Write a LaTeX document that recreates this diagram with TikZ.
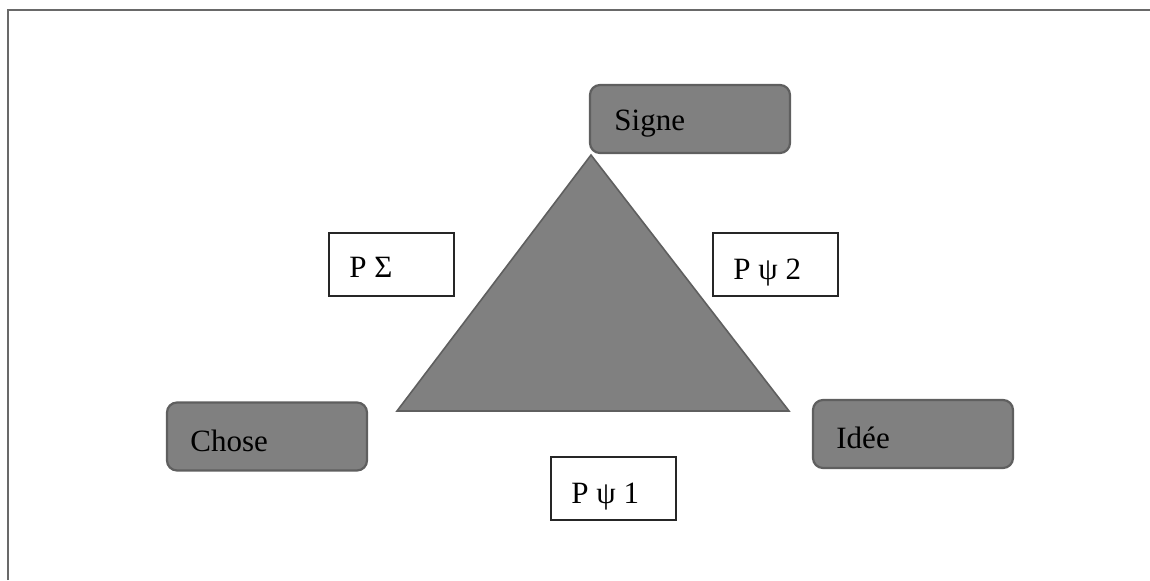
\documentclass[tikz,border=0pt]{standalone}
\usepackage{fontspec}
\setmainfont{Liberation Serif}
\definecolor{boxfill}{RGB}{128,128,128}
\definecolor{boxline}{RGB}{95,95,95}
\definecolor{frameline}{RGB}{105,105,105}
\begin{document}
\begin{tikzpicture}[x=0.5pt,y=-0.5pt,
  rbox/.style={draw=boxline, fill=boxfill, line width=1.1pt, rounded corners=5pt, inner sep=0pt, minimum width=100pt, minimum height=34pt},
  wbox/.style={draw=black!85, fill=white, line width=0.7pt, inner sep=0pt, minimum width=62.5pt, minimum height=31.5pt},
  tri/.style={draw=boxline, fill=boxfill, line width=0.8pt, line join=miter},
  lbl/.style={anchor=base west, inner sep=0pt, font=\fontsize{15.5}{18}\selectfont}]
\useasboundingbox (0,0) rectangle (1150,580);
\draw[frameline, line width=1.3pt] (8,580) -- (8,10) -- (1150,10);
% triangle
\coordinate (apex) at (591,155);
\coordinate (bl) at (397,411);
\coordinate (br) at (789,411);
\draw[tri] (apex) -- (bl) -- (br) -- cycle;
% rounded boxes
\node[rbox] (signe) at (690,119) {};
\node[rbox] (chose) at (267,436.5) {};
\node[rbox] (idee) at (913,434) {};
\node[lbl] (signeT) at (614,130) {Signe};
\node[lbl] (choseT) at (190,451) {Chose};
\node[lbl] (ideeT) at (836,448) {Idée};
% white boxes
\node[wbox] (psigma) at (391.5,264.5) {};
\node[wbox] (ppsi2) at (775.5,264.5) {};
\node[wbox] (ppsi1) at (613.5,488.5) {};
\node[lbl] (psigmaT) at (349,277) {P Σ};
\node[lbl] (ppsi2T) at (733,279) {P ψ 2};
\node[lbl] (ppsi1T) at (571,503) {P ψ 1};
\end{tikzpicture}
\end{document}
